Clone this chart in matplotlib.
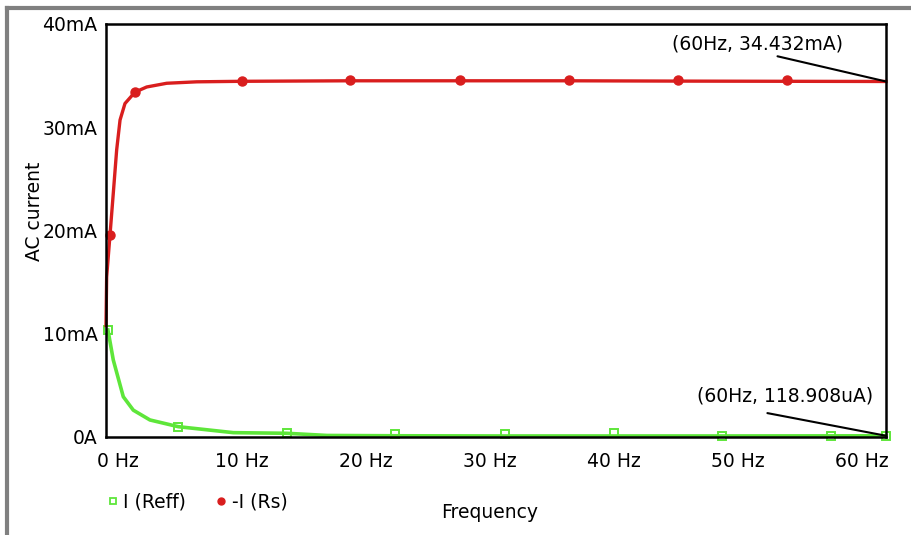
import matplotlib.pyplot as plt
from matplotlib.lines import Line2D

# frequency in Hz, current in mA
rs_freq = [0.0, 0.05, 0.31, 0.56, 0.82, 1.08, 1.46, 2.23, 3.13, 4.67, 6.98, 10.46,
           18.8, 27.2, 35.6, 44.0, 52.4, 60.0]
rs_curr = [10.8, 15.5, 19.6, 23.6, 27.8, 30.7, 32.3, 33.4, 33.9, 34.26, 34.4, 34.45,
           34.5, 34.5, 34.5, 34.47, 34.45, 34.432]
rs_mark_freq = [0.31, 2.23, 10.46, 18.8, 27.2, 35.6, 44.0, 52.4]
rs_mark_curr = [19.6, 33.4, 34.45, 34.55, 34.55, 34.55, 34.55, 34.55]

reff_freq = [0.15, 0.56, 1.33, 2.1, 3.38, 5.56, 9.8, 13.9, 17.0, 22.2, 30.7, 39.1,
             47.4, 55.8, 60.0]
reff_curr = [10.36, 7.46, 3.9, 2.6, 1.65, 1.0, 0.42, 0.36, 0.15, 0.12, 0.1, 0.1,
             0.1, 0.11, 0.119]
reff_mark_freq = [0.15, 5.56, 13.9, 22.2, 30.7, 39.1, 47.4, 55.8, 60.0]
reff_mark_curr = [10.36, 1.0, 0.36, 0.29, 0.25, 0.35, 0.08, 0.1, 0.119]

y_ticks = [0, 10, 20, 30, 40]
y_labels = ["0A", "10mA", "20mA", "30mA", "40mA"]
x_labels = ["0 Hz", "10 Hz", "20 Hz", "30 Hz", "40 Hz", "50 Hz", "60 Hz"]

red = "#d91e1e"
green = "#5ee63a"
fs = 13.5

plt.rcParams['font.family'] = ['DejaVu Sans']

fig = plt.figure(figsize=(9.11, 5.35), dpi=100)
ax = fig.add_axes([106 / 911, 98 / 535, 780 / 911, 413 / 535])

ax.plot(reff_freq, reff_curr, color=green, lw=2.6, clip_on=False)
ax.plot(reff_mark_freq, reff_mark_curr, ls="none", marker="s", ms=6, mfc="none",
        mec=green, mew=1.4, clip_on=False)
ax.plot(rs_freq, rs_curr, color=red, lw=2.4, clip_on=False)
ax.plot(rs_mark_freq, rs_mark_curr, ls="none", marker="o", ms=6.5, color=red,
        clip_on=False)

ax.set_xlim(0, 60)
ax.set_ylim(0, 40)

# tick labels in the original sit a bit off the round values
tick_pos = [0.92 + 9.54 * k for k in range(len(x_labels))]
ax.set_xticks(tick_pos)
ax.set_xticklabels(x_labels)
ax.set_yticks(y_ticks)
ax.set_yticklabels(y_labels)
ax.tick_params(axis="both", length=0, labelsize=fs)
ax.tick_params(axis="x", pad=11)
ax.tick_params(axis="y", pad=6)
for s in ax.spines.values():
    s.set_linewidth(1.8)
    s.set_color("black")

fig.text(35 / 911, 1 - 211 / 535, "AC current", rotation=90, ha="center", va="center",
         fontsize=fs)
fig.text(490 / 911, 1 - 513 / 535, "Frequency", ha="center", va="center", fontsize=fs)

# annotations of the end values
ax.annotate("(60Hz, 34.432mA)", xy=(60, 34.432), xytext=(757 / 911, 1 - 44 / 535),
            textcoords="figure fraction", ha="center", va="center", fontsize=fs,
            arrowprops=dict(arrowstyle="-", color="black", lw=1.5,
                            shrinkA=0, shrinkB=0, relpos=(0.55, 0.0)))
ax.annotate("(60Hz, 118.908uA)", xy=(60, 0.119), xytext=(785 / 911, 1 - 396 / 535),
            textcoords="figure fraction", ha="center", va="center", fontsize=fs,
            arrowprops=dict(arrowstyle="-", color="black", lw=1.5,
                            shrinkA=0, shrinkB=0, relpos=(0.4, -0.4)))

handles = [
    Line2D([], [], ls="none", marker="s", ms=5, mfc="none", mec=green, mew=1.3),
    Line2D([], [], ls="none", marker="o", ms=5, color=red),
]
fig.legend(handles, ["I (Reff)", "-I (Rs)"], loc="center left",
           bbox_to_anchor=(90 / 911, 1 - 502 / 535), ncol=2, frameon=False,
           fontsize=fs, handlelength=0.6, handletextpad=0.25, columnspacing=1.6)

# grey frame around the picture
fig.add_artist(Line2D([7 / 911, 7 / 911], [0, 1 - 8 / 535], color="#808080", lw=3))
fig.add_artist(Line2D([7 / 911, 1], [1 - 8 / 535, 1 - 8 / 535], color="#808080", lw=3))

fig.savefig("out.png", dpi=100)
